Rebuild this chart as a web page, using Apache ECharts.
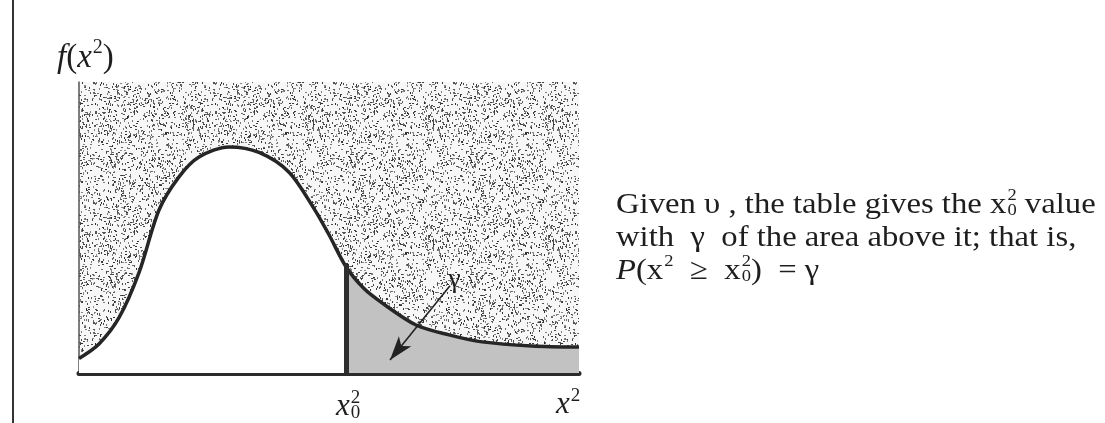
<!DOCTYPE html>
<html><head><meta charset="utf-8">
<script src="https://cdn.jsdelivr.net/npm/echarts@6/dist/echarts.min.js"></script>
<style>html,body{margin:0;padding:0;background:#fff;}#c{width:1105px;height:423px;}</style>
</head><body><div id="c"></div>
<script>
// ---- data ----
const curveX = [0, 0.4, 0.8, 1.2, 1.6, 2.0, 2.4, 3.0, 3.6, 4.2, 4.7, 5.0, 5.34, 5.7, 6.06, 6.74, 7.4, 8.06, 9.06, 10.0];
const curveY = [0.05, 0.10, 0.19, 0.345, 0.56, 0.674, 0.742, 0.777, 0.758, 0.69, 0.565, 0.475, 0.365, 0.29, 0.241, 0.165, 0.131, 0.107, 0.093, 0.089];
const cutX = 5.34;
const cutY = 0.375;
const arrowFrom = [7.42, 0.3];
const arrowTo = [6.22, 0.045];
const xRange = [0, 10];
const yRange = [0, 1];
const arrowLabel = 'γ';
const textLines = [
  [{t:'Given '},{t:'υ'},{t:' , the table gives the '},{t:'x'},{t:'2',sup:true},{t:'0',sub:true,stack:true},{t:' value'}],
  [{t:'with  γ  of the area above it; that is,'}],
  [{t:'P',it:true},{t:'(x'},{t:'2',sup:true},{t:'  ≥  x'},{t:'2',sup:true},{t:'0',sub:true,stack:true},{t:')  = γ'}]
];

const FONT = '"Liberation Serif","DejaVu Serif",serif';
const INK = '#1e1e1e';
const cv = document.createElement('canvas').getContext('2d');
function measure(t, size, it){ cv.font = (it?'italic ':'') + size + 'px ' + FONT; return cv.measureText(t).width; }
function runs(x, y, size, segs, supScale){
  const k = supScale || 0.55;
  const out = []; let cursor = x, prevStart = x;
  segs.forEach(s => {
    const sz = (s.sup||s.sub) ? Math.round(size*k) : size;
    const dy = s.sup ? -size*0.3 : (s.sub ? size*0.2 : 0);
    const start = s.stack ? prevStart : cursor + (s.sup||s.sub ? 1 : 0);
    const w = measure(s.t, sz, s.it);
    out.push({type:'text', x:start, y:y+dy, silent:true,
      style:{text:s.t, fontSize:sz, fontFamily:FONT, fontStyle:s.it?'italic':'normal', fill:INK, verticalAlign:'middle', align:'left'}});
    prevStart = start; cursor = Math.max(cursor, start + w);
  });
  return out;
}

// stipple texture (fill style only)
function stipple(){
  const c = document.createElement('canvas'); c.width = 120; c.height = 120;
  const g = c.getContext('2d'); g.fillStyle = '#f7f7f7'; g.fillRect(0,0,120,120);
  let s = 12345; const r = () => (s = (s * 1103515245 + 12345) & 0x7fffffff) / 0x7fffffff;
  for (let i = 0; i < 1450; i++){
    const v = Math.floor(45 + r()*100); g.fillStyle = 'rgb('+v+','+v+','+v+')';
    const h = r() < 0.6; g.fillRect(Math.floor(r()*120), Math.floor(r()*120), h?1:2, h?2:1);
  }
  return c;
}

const frac = (cutX - curveX[0]) / (curveX[curveX.length-1] - curveX[0]);
const areaFill = new echarts.graphic.LinearGradient(0, 0, 1, 0, [
  {offset:0, color:'#ffffff'}, {offset:frac, color:'#ffffff'},
  {offset:frac, color:'#c2c2c2'}, {offset:1, color:'#c2c2c2'}
]);

const chart = echarts.init(document.getElementById('c'), null, {renderer:'canvas'});
const option = {
  animation:false,
  backgroundColor:'#ffffff',
  grid:{show:true, left:79, top:82, width:500, height:291, backgroundColor:{image:stipple(), repeat:'repeat'}, borderWidth:0},
  xAxis:{type:'value', min:xRange[0], max:xRange[1], axisLine:{show:true, lineStyle:{color:'#2b2b2b', width:5}}, axisTick:{show:false}, axisLabel:{show:false}, splitLine:{show:false}},
  yAxis:{type:'value', min:yRange[0], max:yRange[1], axisLine:{show:true, lineStyle:{color:'#555', width:1.5}}, axisTick:{show:false}, axisLabel:{show:false}, splitLine:{show:false}},
  series:[{
    type:'line', data:curveX.map((x,i)=>[x,curveY[i]]), smooth:0.3, showSymbol:false, z:3,
    lineStyle:{color:'#262626', width:3.5}, areaStyle:{color:areaFill, opacity:1},
    markLine:{silent:true, symbolSize:[12,24], animation:false,
      data:[
        [{coord:[cutX,0], symbol:'none', lineStyle:{width:5, color:'#2e2e2e', type:'solid'}, label:{show:false}}, {coord:[cutX,cutY], symbol:'none'}],
        [{coord:arrowFrom, symbol:'none', lineStyle:{width:1.6, color:'#222', type:'solid'},
          label:{show:true, position:'start', formatter:arrowLabel, fontFamily:FONT, fontSize:27, color:INK, distance:7}},
         {coord:arrowTo, symbol:'arrow'}]
      ]}
  }]
};
chart.setOption(option);

// text placed relative to axes
const pCut = chart.convertToPixel({gridIndex:0}, [cutX, 0]);
const pEnd = chart.convertToPixel({gridIndex:0}, [xRange[1], 0]);
const pTop = chart.convertToPixel({gridIndex:0}, [0, yRange[1]]);
const g = [{type:'line', shape:{x1:13,y1:0,x2:13,y2:423}, style:{stroke:'#333', lineWidth:2}, silent:true}];
g.push(...runs(pTop[0]-22, pTop[1]-24, 33, [{t:'f',it:true},{t:'('},{t:'x',it:true},{t:'2',sup:true},{t:')'}], 0.62));
g.push(...runs(pCut[0]-10, pCut[1]+34, 31, [{t:'x',it:true},{t:'2',sup:true},{t:'0',sub:true,stack:true}], 0.6));
g.push(...runs(pEnd[0]-23, pEnd[1]+32, 31, [{t:'x',it:true},{t:'2',sup:true}], 0.62));
const body = [];
textLines.forEach((ln, i) => body.push(...runs(0, 205 + i*33, 30, ln, 0.58)));
g.push({type:'group', x:616, y:0, scaleX:1.09, children:body});
chart.setOption({graphic:g});
</script></body></html>
